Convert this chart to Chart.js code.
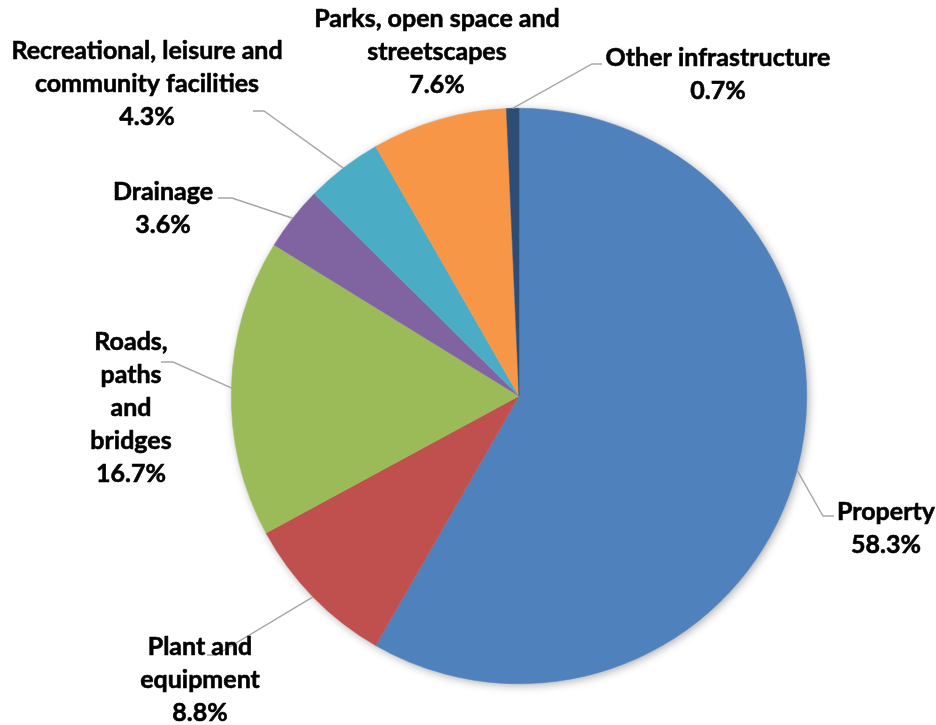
<!DOCTYPE html>
<html>
<head>
<meta charset="utf-8">
<script src="https://cdn.jsdelivr.net/npm/chart.js@4/dist/chart.umd.min.js"></script>
<style>
  html, body { margin: 0; padding: 0; background: #ffffff; }
  #wrap { width: 936px; height: 725px; }
</style>
</head>
<body>
<div id="wrap"><canvas id="pie" width="936" height="725"></canvas></div>
<script>
// Capital works spending by asset class (share of total, %)
const categories = [
  'Property',
  'Plant and equipment',
  'Roads, paths and bridges',
  'Drainage',
  'Recreational, leisure and community facilities',
  'Parks, open space and streetscapes',
  'Other infrastructure'
];
const shares = [58.3, 8.8, 16.7, 3.6, 4.3, 7.6, 0.7];
const sliceColors = ['#4F81BD', '#C0504D', '#9BBB59', '#8064A2', '#4BACC6', '#F79646', '#2C4D75'];

// Label placement: wrapped lines, text centre x, first baseline, and leader elbow points
const labelLayout = [
  { lines: ['Property'], x: 886, y: 520, leader: [[823, 516], [834, 516]] },
  { lines: ['Plant and', 'equipment'], x: 200, y: 655, leader: [[216, 655], [207, 655]] },
  { lines: ['Roads,', 'paths', 'and', 'bridges'], x: 131, y: 350, leader: [[173, 362], [161, 362]] },
  { lines: ['Drainage'], x: 163, y: 200, leader: [[232, 198], [218, 198]] },
  { lines: ['Recreational, leisure and', 'community facilities'], x: 147, y: 59, leader: [[264, 111], [253, 111]] },
  { lines: ['Parks, open space and', 'streetscapes'], x: 437, y: 27, leader: null },
  { lines: ['Other infrastructure'], x: 718, y: 66, leader: [[592, 64], [602, 64]] }
];
const LINE_GAP = 33;
const LABEL_FONT = 'bold 25px Lato, "Open Sans", sans-serif';

// Soft drop shadow behind the whole pie
const pieShadow = {
  id: 'pieShadow',
  beforeDatasetsDraw(chart) {
    const arc = chart.getDatasetMeta(0).data[0];
    if (!arc) return;
    const ctx = chart.ctx;
    ctx.save();
    ctx.shadowColor = 'rgba(0,0,0,0.35)';
    ctx.shadowBlur = 10;
    ctx.shadowOffsetX = 2;
    ctx.shadowOffsetY = 2;
    ctx.fillStyle = '#ffffff';
    ctx.beginPath();
    ctx.arc(arc.x, arc.y, arc.outerRadius - 0.5, 0, Math.PI * 2);
    ctx.fill();
    ctx.restore();
  }
};

// Category name + percentage outside each slice, with grey leader lines
const sliceLabels = {
  id: 'sliceLabels',
  afterDatasetsDraw(chart) {
    const ctx = chart.ctx;
    const meta = chart.getDatasetMeta(0);
    const values = chart.data.datasets[0].data;
    meta.data.forEach((arc, i) => {
      const L = labelLayout[i];
      const mid = (arc.startAngle + arc.endAngle) / 2;
      const sx = arc.x + Math.cos(mid) * arc.outerRadius;
      const sy = arc.y + Math.sin(mid) * arc.outerRadius;
      ctx.save();
      if (L.leader) {
        ctx.strokeStyle = '#A6A6A6';
        ctx.lineWidth = 1.4;
        ctx.beginPath();
        ctx.moveTo(sx, sy);
        L.leader.forEach(p => ctx.lineTo(p[0], p[1]));
        ctx.stroke();
      }
      ctx.fillStyle = '#000000';
      ctx.strokeStyle = '#000000';
      ctx.lineWidth = 0.6;
      ctx.lineJoin = 'round';
      ctx.font = LABEL_FONT;
      ctx.textAlign = 'center';
      ctx.textBaseline = 'alphabetic';
      const rows = L.lines.concat([values[i].toFixed(1) + '%']);
      rows.forEach((t, k) => {
        ctx.fillText(t, L.x, L.y + k * LINE_GAP);
        ctx.strokeText(t, L.x, L.y + k * LINE_GAP);
      });
      ctx.restore();
    });
  }
};

new Chart(document.getElementById('pie'), {
  type: 'pie',
  data: {
    labels: categories,
    datasets: [{
      data: shares,
      backgroundColor: sliceColors,
      borderColor: sliceColors,
      borderWidth: 0.5
    }]
  },
  options: {
    responsive: false,
    animation: false,
    layout: { padding: { left: 231, right: 129, top: 108, bottom: 41 } },
    plugins: {
      legend: { display: false },
      tooltip: { enabled: false }
    }
  },
  plugins: [pieShadow, sliceLabels]
});
</script>
</body>
</html>
